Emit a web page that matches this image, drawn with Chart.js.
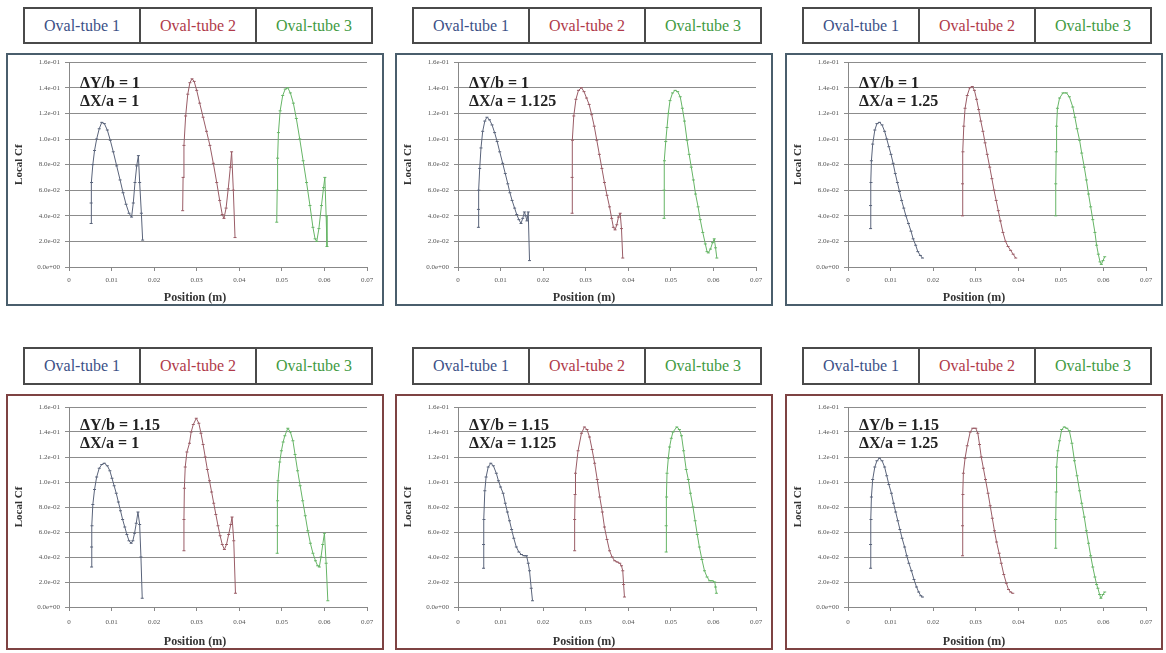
<!DOCTYPE html>
<html>
<head>
<meta charset="utf-8">
<script src="https://cdn.jsdelivr.net/npm/chart.js@4.4.1/dist/chart.umd.min.js"></script>
<style>
body { margin: 0; width: 1166px; height: 653px; background: #fff; position: relative; overflow: hidden; font-family: 'Liberation Serif', serif; }
.legend { position: absolute; display: flex; border: 2px solid #4a4a4a; box-sizing: border-box; width: 350px; background: #fff; }
.legend div { flex: 1; text-align: center; font: 16px 'Liberation Serif', 'DejaVu Serif', serif; border-left: 2px solid #4a4a4a; }
.legend div:first-child { border-left: none; }
.box { position: absolute; border: 2px solid; box-sizing: border-box; width: 378px; pointer-events: none; }
canvas { position: absolute; }
.note { position: absolute; font: bold 16px 'Liberation Serif', serif; line-height: 18px; color: #222; white-space: nowrap; }
.xtitle { position: absolute; width: 378px; text-align: center; font: bold 12px 'Liberation Serif', serif; line-height: 16px; color: #333; }
</style>
</head>
<body>
<script>
const tubeNames = ['Oval-tube 1', 'Oval-tube 2', 'Oval-tube 3'];
const tubeColors = ['#59637a', '#9a5c66', '#66b566'];
const legendColors = ['#3b4f86', '#b03a4a', '#3f9a3f'];
const xTickValues = [0, 0.01, 0.02, 0.03, 0.04, 0.05, 0.06, 0.07];
const xTickLabels = ['0', '0.01', '0.02', '0.03', '0.04', '0.05', '0.06', '0.07'];
const yTickValues = [0, 0.02, 0.04, 0.06, 0.08, 0.10, 0.12, 0.14, 0.16];
const yTickLabels = ['0.0e+00', '2.0e-02', '4.0e-02', '6.0e-02', '8.0e-02', '1.0e-01', '1.2e-01', '1.4e-01', '1.6e-01'];
const dyLabels = ['1', '1', '1', '1.15', '1.15', '1.15'];
const dxLabels = ['1', '1.125', '1.25', '1', '1.125', '1.25'];

// panel 1: dY/b = 1, dX/a = 1
const p1t1x = [0.0052, 0.0052, 0.0053, 0.0056, 0.0060, 0.0065, 0.0071, 0.0077, 0.0083, 0.0090, 0.0097, 0.0104, 0.0112, 0.0120, 0.0127, 0.0134, 0.0141, 0.0147, 0.0151, 0.0155, 0.0159, 0.0163, 0.0166, 0.0170, 0.0173];
const p1t1y = [0.034, 0.050, 0.066, 0.080, 0.091, 0.100, 0.108, 0.113, 0.112, 0.107, 0.099, 0.090, 0.079, 0.068, 0.058, 0.049, 0.042, 0.039, 0.050, 0.066, 0.079, 0.087, 0.066, 0.042, 0.021];
const p1t2x = [0.0267, 0.0268, 0.0270, 0.0274, 0.0279, 0.0284, 0.0289, 0.0294, 0.0300, 0.0307, 0.0315, 0.0323, 0.0331, 0.0339, 0.0347, 0.0354, 0.0360, 0.0364, 0.0369, 0.0374, 0.0379, 0.0382, 0.0386, 0.0390];
const p1t2y = [0.044, 0.070, 0.095, 0.118, 0.135, 0.144, 0.147, 0.145, 0.138, 0.128, 0.117, 0.106, 0.095, 0.081, 0.066, 0.052, 0.041, 0.038, 0.046, 0.061, 0.078, 0.090, 0.060, 0.023];
const p1t3x = [0.0488, 0.0489, 0.0490, 0.0492, 0.0496, 0.0502, 0.0508, 0.0514, 0.0520, 0.0527, 0.0534, 0.0542, 0.0550, 0.0558, 0.0566, 0.0573, 0.0578, 0.0582, 0.0587, 0.0593, 0.0598, 0.0601, 0.0604, 0.0606];
const p1t3y = [0.035, 0.060, 0.085, 0.105, 0.122, 0.134, 0.139, 0.140, 0.136, 0.128, 0.116, 0.100, 0.083, 0.066, 0.048, 0.031, 0.022, 0.020, 0.030, 0.048, 0.062, 0.070, 0.040, 0.016];

// panel 2: dY/b = 1, dX/a = 1.125
const p2t1x = [0.0048, 0.0048, 0.0049, 0.0051, 0.0054, 0.0058, 0.0063, 0.0068, 0.0074, 0.0080, 0.0086, 0.0092, 0.0098, 0.0105, 0.0111, 0.0117, 0.0122, 0.0127, 0.0133, 0.0138, 0.0143, 0.0148, 0.0152, 0.0156, 0.0159, 0.0162, 0.0165, 0.0168];
const p2t1y = [0.031, 0.045, 0.060, 0.077, 0.093, 0.106, 0.114, 0.117, 0.115, 0.111, 0.105, 0.098, 0.090, 0.081, 0.073, 0.065, 0.058, 0.052, 0.046, 0.041, 0.037, 0.034, 0.038, 0.043, 0.040, 0.036, 0.043, 0.005];
const p2t2x = [0.0268, 0.0268, 0.0269, 0.0272, 0.0277, 0.0283, 0.0290, 0.0296, 0.0302, 0.0308, 0.0314, 0.0320, 0.0326, 0.0332, 0.0338, 0.0344, 0.0350, 0.0356, 0.0361, 0.0365, 0.0369, 0.0373, 0.0377, 0.0381, 0.0384, 0.0387];
const p2t2y = [0.042, 0.070, 0.099, 0.118, 0.131, 0.138, 0.140, 0.137, 0.132, 0.127, 0.119, 0.110, 0.099, 0.088, 0.077, 0.066, 0.056, 0.047, 0.038, 0.031, 0.029, 0.033, 0.039, 0.042, 0.030, 0.007];
const p2t3x = [0.0484, 0.0484, 0.0485, 0.0488, 0.0491, 0.0494, 0.0498, 0.0504, 0.0510, 0.0516, 0.0522, 0.0527, 0.0532, 0.0538, 0.0543, 0.0548, 0.0553, 0.0558, 0.0564, 0.0569, 0.0575, 0.0581, 0.0585, 0.0588, 0.0593, 0.0598, 0.0602, 0.0605, 0.0608];
const p2t3y = [0.038, 0.060, 0.083, 0.098, 0.109, 0.120, 0.130, 0.136, 0.138, 0.137, 0.133, 0.124, 0.114, 0.099, 0.088, 0.078, 0.068, 0.057, 0.047, 0.037, 0.027, 0.018, 0.012, 0.011, 0.014, 0.019, 0.022, 0.015, 0.007];

// panel 3: dY/b = 1, dX/a = 1.25
const p3t1x = [0.0053, 0.0053, 0.0054, 0.0055, 0.0058, 0.0063, 0.0068, 0.0074, 0.0080, 0.0086, 0.0091, 0.0096, 0.0101, 0.0106, 0.0111, 0.0116, 0.0121, 0.0126, 0.0131, 0.0136, 0.0142, 0.0148, 0.0153, 0.0159, 0.0164, 0.0170, 0.0175];
const p3t1y = [0.030, 0.048, 0.066, 0.083, 0.096, 0.107, 0.112, 0.113, 0.111, 0.106, 0.100, 0.094, 0.088, 0.081, 0.073, 0.066, 0.059, 0.052, 0.046, 0.040, 0.034, 0.028, 0.022, 0.017, 0.012, 0.009, 0.007];
const p3t2x = [0.0269, 0.0269, 0.0270, 0.0272, 0.0275, 0.0280, 0.0286, 0.0292, 0.0297, 0.0302, 0.0307, 0.0312, 0.0317, 0.0322, 0.0327, 0.0333, 0.0338, 0.0343, 0.0348, 0.0353, 0.0358, 0.0364, 0.0370, 0.0376, 0.0382, 0.0388, 0.0394];
const p3t2y = [0.040, 0.065, 0.090, 0.110, 0.124, 0.134, 0.140, 0.141, 0.138, 0.131, 0.123, 0.114, 0.106, 0.097, 0.088, 0.078, 0.069, 0.060, 0.052, 0.044, 0.036, 0.027, 0.020, 0.016, 0.013, 0.010, 0.007];
const p3t3x = [0.0488, 0.0488, 0.0489, 0.0490, 0.0492, 0.0497, 0.0505, 0.0513, 0.0520, 0.0528, 0.0533, 0.0538, 0.0544, 0.0549, 0.0555, 0.0560, 0.0565, 0.0570, 0.0575, 0.0580, 0.0584, 0.0588, 0.0592, 0.0595, 0.0599, 0.0603];
const p3t3y = [0.040, 0.065, 0.090, 0.110, 0.124, 0.132, 0.136, 0.136, 0.133, 0.125, 0.117, 0.108, 0.099, 0.089, 0.078, 0.068, 0.057, 0.047, 0.037, 0.027, 0.017, 0.010, 0.004, 0.002, 0.005, 0.008];

// panel 4: dY/b = 1.15, dX/a = 1
const p4t1x = [0.0053, 0.0053, 0.0054, 0.0056, 0.0060, 0.0065, 0.0071, 0.0077, 0.0083, 0.0090, 0.0096, 0.0101, 0.0106, 0.0111, 0.0116, 0.0121, 0.0126, 0.0131, 0.0136, 0.0141, 0.0146, 0.0150, 0.0154, 0.0158, 0.0162, 0.0166, 0.0169, 0.0172];
const p4t1y = [0.032, 0.048, 0.065, 0.082, 0.094, 0.104, 0.111, 0.114, 0.115, 0.113, 0.109, 0.103, 0.097, 0.091, 0.084, 0.077, 0.070, 0.064, 0.058, 0.053, 0.051, 0.053, 0.059, 0.067, 0.076, 0.066, 0.040, 0.007];
const p4t2x = [0.0270, 0.0270, 0.0271, 0.0273, 0.0277, 0.0283, 0.0287, 0.0292, 0.0299, 0.0305, 0.0310, 0.0315, 0.0320, 0.0325, 0.0330, 0.0335, 0.0340, 0.0345, 0.0350, 0.0355, 0.0360, 0.0365, 0.0370, 0.0375, 0.0380, 0.0383, 0.0387, 0.0391];
const p4t2y = [0.045, 0.070, 0.095, 0.112, 0.124, 0.131, 0.140, 0.146, 0.151, 0.147, 0.139, 0.130, 0.120, 0.110, 0.101, 0.092, 0.083, 0.074, 0.065, 0.057, 0.050, 0.046, 0.050, 0.058, 0.066, 0.072, 0.053, 0.011];
const p4t3x = [0.0489, 0.0489, 0.0490, 0.0491, 0.0495, 0.0499, 0.0503, 0.0507, 0.0514, 0.0520, 0.0526, 0.0531, 0.0537, 0.0543, 0.0549, 0.0555, 0.0561, 0.0567, 0.0573, 0.0579, 0.0584, 0.0588, 0.0592, 0.0596, 0.0600, 0.0604, 0.0608];
const p4t3y = [0.043, 0.065, 0.085, 0.101, 0.116, 0.125, 0.132, 0.137, 0.143, 0.140, 0.133, 0.122, 0.109, 0.097, 0.085, 0.073, 0.061, 0.051, 0.043, 0.037, 0.033, 0.032, 0.040, 0.050, 0.059, 0.035, 0.005];

// panel 5: dY/b = 1.15, dX/a = 1.125
const p5t1x = [0.0060, 0.0060, 0.0061, 0.0063, 0.0066, 0.0071, 0.0077, 0.0083, 0.0090, 0.0095, 0.0100, 0.0106, 0.0111, 0.0116, 0.0121, 0.0126, 0.0131, 0.0137, 0.0143, 0.0149, 0.0155, 0.0161, 0.0165, 0.0168, 0.0172, 0.0175];
const p5t1y = [0.031, 0.050, 0.070, 0.093, 0.104, 0.112, 0.115, 0.113, 0.107, 0.101, 0.096, 0.091, 0.083, 0.076, 0.069, 0.062, 0.055, 0.048, 0.044, 0.042, 0.041, 0.041, 0.035, 0.029, 0.015, 0.005];
const p5t2x = [0.0274, 0.0274, 0.0275, 0.0276, 0.0282, 0.0290, 0.0297, 0.0303, 0.0309, 0.0315, 0.0321, 0.0327, 0.0333, 0.0339, 0.0344, 0.0350, 0.0356, 0.0362, 0.0368, 0.0374, 0.0380, 0.0384, 0.0387, 0.0389, 0.0391];
const p5t2y = [0.045, 0.070, 0.090, 0.107, 0.125, 0.139, 0.144, 0.142, 0.136, 0.126, 0.115, 0.102, 0.088, 0.076, 0.064, 0.054, 0.045, 0.040, 0.037, 0.036, 0.035, 0.033, 0.029, 0.018, 0.008];
const p5t3x = [0.0489, 0.0489, 0.0490, 0.0491, 0.0494, 0.0497, 0.0501, 0.0505, 0.0514, 0.0520, 0.0525, 0.0530, 0.0536, 0.0541, 0.0546, 0.0552, 0.0557, 0.0562, 0.0567, 0.0573, 0.0579, 0.0585, 0.0591, 0.0597, 0.0603, 0.0605, 0.0607];
const p5t3y = [0.044, 0.065, 0.088, 0.107, 0.119, 0.128, 0.135, 0.140, 0.144, 0.142, 0.137, 0.125, 0.110, 0.102, 0.091, 0.080, 0.069, 0.058, 0.048, 0.038, 0.029, 0.024, 0.021, 0.021, 0.020, 0.016, 0.011];

// panel 6: dY/b = 1.15, dX/a = 1.25
const p6t1x = [0.0053, 0.0053, 0.0054, 0.0055, 0.0058, 0.0063, 0.0068, 0.0074, 0.0080, 0.0086, 0.0091, 0.0096, 0.0102, 0.0107, 0.0112, 0.0117, 0.0122, 0.0127, 0.0133, 0.0138, 0.0143, 0.0149, 0.0155, 0.0161, 0.0166, 0.0171, 0.0175];
const p6t1y = [0.031, 0.050, 0.070, 0.088, 0.102, 0.112, 0.117, 0.119, 0.117, 0.112, 0.105, 0.098, 0.091, 0.083, 0.076, 0.069, 0.062, 0.055, 0.048, 0.041, 0.035, 0.029, 0.022, 0.016, 0.012, 0.009, 0.008];
const p6t2x = [0.0269, 0.0269, 0.0270, 0.0271, 0.0275, 0.0280, 0.0287, 0.0293, 0.0300, 0.0305, 0.0309, 0.0313, 0.0318, 0.0323, 0.0329, 0.0334, 0.0339, 0.0344, 0.0349, 0.0355, 0.0360, 0.0366, 0.0372, 0.0377, 0.0382, 0.0387];
const p6t2y = [0.041, 0.065, 0.090, 0.107, 0.119, 0.129, 0.140, 0.143, 0.143, 0.139, 0.130, 0.120, 0.111, 0.102, 0.091, 0.081, 0.071, 0.061, 0.052, 0.043, 0.035, 0.026, 0.019, 0.014, 0.012, 0.011];
const p6t3x = [0.0488, 0.0488, 0.0489, 0.0490, 0.0493, 0.0497, 0.0502, 0.0508, 0.0514, 0.0520, 0.0526, 0.0532, 0.0538, 0.0544, 0.0549, 0.0555, 0.0560, 0.0565, 0.0570, 0.0575, 0.0580, 0.0584, 0.0587, 0.0591, 0.0594, 0.0599, 0.0603];
const p6t3y = [0.047, 0.070, 0.092, 0.112, 0.125, 0.133, 0.142, 0.144, 0.143, 0.141, 0.131, 0.117, 0.105, 0.093, 0.083, 0.072, 0.061, 0.051, 0.041, 0.032, 0.024, 0.018, 0.015, 0.010, 0.007, 0.010, 0.012];

const panels = [
    [[p1t1x, p1t1y], [p1t2x, p1t2y], [p1t3x, p1t3y]],
    [[p2t1x, p2t1y], [p2t2x, p2t2y], [p2t3x, p2t3y]],
    [[p3t1x, p3t1y], [p3t2x, p3t2y], [p3t3x, p3t3y]],
    [[p4t1x, p4t1y], [p4t2x, p4t2y], [p4t3x, p4t3y]],
    [[p5t1x, p5t1y], [p5t2x, p5t2y], [p5t3x, p5t3y]],
    [[p6t1x, p6t1y], [p6t2x, p6t2y], [p6t3x, p6t3y]]
];

const colLeft = [6, 395, 785];
const rows = [
    { legendTop: 7, legendH: 37, boxTop: 53, boxH: 253, plotTop: 8, axisH: 39, tickPad: 5, noteTop: 74, border: '#4a5e6c' },
    { legendTop: 347, legendH: 38, boxTop: 394, boxH: 256, plotTop: 13, axisH: 43, tickPad: 7, noteTop: 416, border: '#7e4343' }
];

function el(tag, cls, css, text) {
    const e = document.createElement(tag);
    if (cls) e.className = cls;
    Object.assign(e.style, css);
    if (text) e.textContent = text;
    document.body.appendChild(e);
    return e;
}

panels.forEach((tubes, i) => {
    const row = rows[Math.floor(i / 3)];
    const left = colLeft[i % 3];

    // legend strip
    const lg = el('div', 'legend', { left: (left + 17) + 'px', top: row.legendTop + 'px', height: row.legendH + 'px' });
    tubeNames.forEach((name, k) => {
        const c = document.createElement('div');
        c.textContent = name;
        c.style.color = legendColors[k];
        c.style.lineHeight = (row.legendH - 4) + 'px';
        lg.appendChild(c);
    });

    const cv = el('canvas', '', { left: left + 'px', top: row.boxTop + 'px' });
    cv.width = 378;
    cv.height = row.boxH;
    el('div', 'box', { left: left + 'px', top: row.boxTop + 'px', height: row.boxH + 'px', borderColor: row.border });

    const note = el('div', 'note', { left: (left + 74) + 'px', top: row.noteTop + 'px' });
    note.innerHTML = 'ΔY/b = ' + dyLabels[i] + '<br>ΔX/a = ' + dxLabels[i];
    el('div', 'xtitle', { left: left + 'px', top: (row.boxTop + row.boxH - 17) + 'px' }, 'Position (m)');

    new Chart(cv.getContext('2d'), {
        type: 'line',
        data: {
            datasets: tubes.map(([xs, ys], k) => ({
                label: tubeNames[k],
                data: xs.map((x, j) => ({ x: x, y: ys[j] })),
                borderColor: tubeColors[k],
                borderWidth: 1,
                pointStyle: 'line',
                pointRadius: 1.5,
                pointBorderColor: tubeColors[k],
                pointBorderWidth: 1,
                fill: false,
                tension: 0
            }))
        },
        options: {
            responsive: false,
            animation: false,
            layout: { padding: { left: 0, top: row.plotTop, right: 17, bottom: 0 } },
            plugins: { legend: { display: false }, tooltip: { enabled: false } },
            scales: {
                x: {
                    type: 'linear',
                    min: 0,
                    max: 0.07,
                    afterBuildTicks: s => { s.ticks = xTickValues.map(v => ({ value: v })); },
                    afterFit: s => { s.height = row.axisH; },
                    grid: { drawOnChartArea: false, tickLength: 4, color: '#888' },
                    border: { color: '#888' },
                    ticks: {
                        padding: row.tickPad,
                        maxRotation: 0,
                        color: '#555',
                        font: { family: 'Liberation Serif', size: 7 },
                        callback: (v, idx) => xTickLabels[idx]
                    }
                },
                y: {
                    min: 0,
                    max: 0.16,
                    afterBuildTicks: s => { s.ticks = yTickValues.map(v => ({ value: v })); },
                    afterFit: s => { s.width = 63; },
                    grid: { color: '#8c8c8c', tickLength: 4 },
                    border: { color: '#888' },
                    ticks: {
                        padding: 5,
                        color: '#555',
                        font: { family: 'Liberation Serif', size: 7 },
                        callback: (v, idx) => yTickLabels[idx]
                    },
                    title: {
                        display: true,
                        text: 'Local Cf',
                        color: '#333',
                        padding: { top: 7, bottom: 0 },
                        font: { family: 'Liberation Serif', size: 11, weight: 'bold' }
                    }
                }
            }
        }
    });
});
</script>
</body>
</html>
